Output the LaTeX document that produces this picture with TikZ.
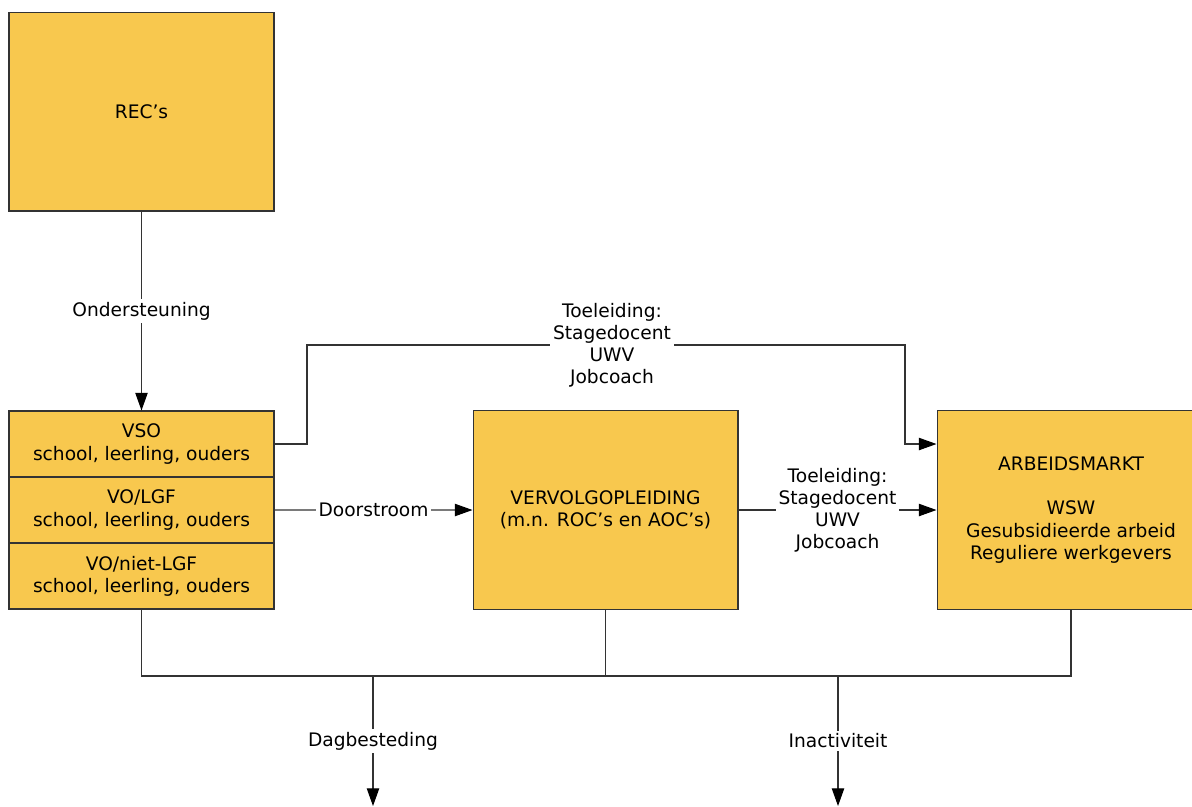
\documentclass[tikz,border=0pt]{standalone}
\usepackage{fontspec}
\setmainfont{DejaVu Sans}
\usetikzlibrary{positioning, arrows.meta, calc}
\definecolor{boxgold}{HTML}{F8C84E}
\definecolor{linegray}{HTML}{333333}

\begin{document}
\begin{tikzpicture}[x=0.02cm, y=-0.02cm,
    font=\fontsize{10.6}{12.6}\selectfont,
    box/.style={draw=linegray, line width=0.6pt, fill=boxgold, align=center, inner sep=0pt},
    flow/.style={draw=linegray, line width=0.6pt, -{Triangle[length=10pt, width=7pt, color=black]}},
    link/.style={draw=linegray, line width=0.6pt},
    lbl/.style={fill=white, align=center, inner sep=1.5pt}]
    \clip (0,0) rectangle (1192,806);

    \node[box, minimum width=5.3cm, minimum height=3.98cm] (rec) at (141.5,111.5) {REC's};
    \node[box, minimum width=5.3cm, minimum height=1.32cm] (vso) at (141.5,444) {VSO\\school, leerling, ouders};
    \node[box, minimum width=5.3cm, minimum height=1.32cm, below=-0.6pt of vso] (volgf) {VO/LGF\\school, leerling, ouders};
    \node[box, minimum width=5.3cm, minimum height=1.32cm, below=-0.6pt of volgf] (vonlgf) {VO/niet-LGF\\school, leerling, ouders};
    \node[box, minimum width=5.3cm, minimum height=3.98cm] (vervolg) at (605.5,510) {VERVOLGOPLEIDING\\(m.n. ROC's en AOC's)};
    \node[box, minimum width=5.36cm, minimum height=3.98cm] (arbeid) at (1071,510) {ARBEIDSMARKT\\[12.6pt]WSW\\Gesubsidieerde arbeid\\Reguliere werkgevers};

    \coordinate (bendA) at (307,345);
    \coordinate (bendB) at (905,345);
    \coordinate (bus) at (0,676);
    \coordinate (dag) at (373,806);
    \coordinate (inact) at (838,806);

    \draw[flow] (rec) -- node[lbl] {Ondersteuning} (vso);
    \draw[flow] (vso.east) -| (bendA) -- node[lbl, pos=0.51] {Toeleiding:\\Stagedocent\\UWV\\Jobcoach} (bendB) |- (arbeid.west |- vso.east);
    \draw[flow] (volgf.east) -- node[lbl] {Doorstroom} (vervolg.west);
    \draw[flow] (vervolg.east) -- node[lbl] {Toeleiding:\\Stagedocent\\UWV\\Jobcoach} (arbeid.west);

    \draw[link] (vonlgf.south) -- (vonlgf.south |- bus) -- (arbeid.south |- bus) -- (arbeid.south);
    \draw[link] (vervolg.south) -- (vervolg.south |- bus);
    \draw[flow] (dag |- bus) -- node[lbl] {Dagbesteding} (dag);
    \draw[flow] (inact |- bus) -- node[lbl] {Inactiviteit} (inact);
\end{tikzpicture}
\end{document}
